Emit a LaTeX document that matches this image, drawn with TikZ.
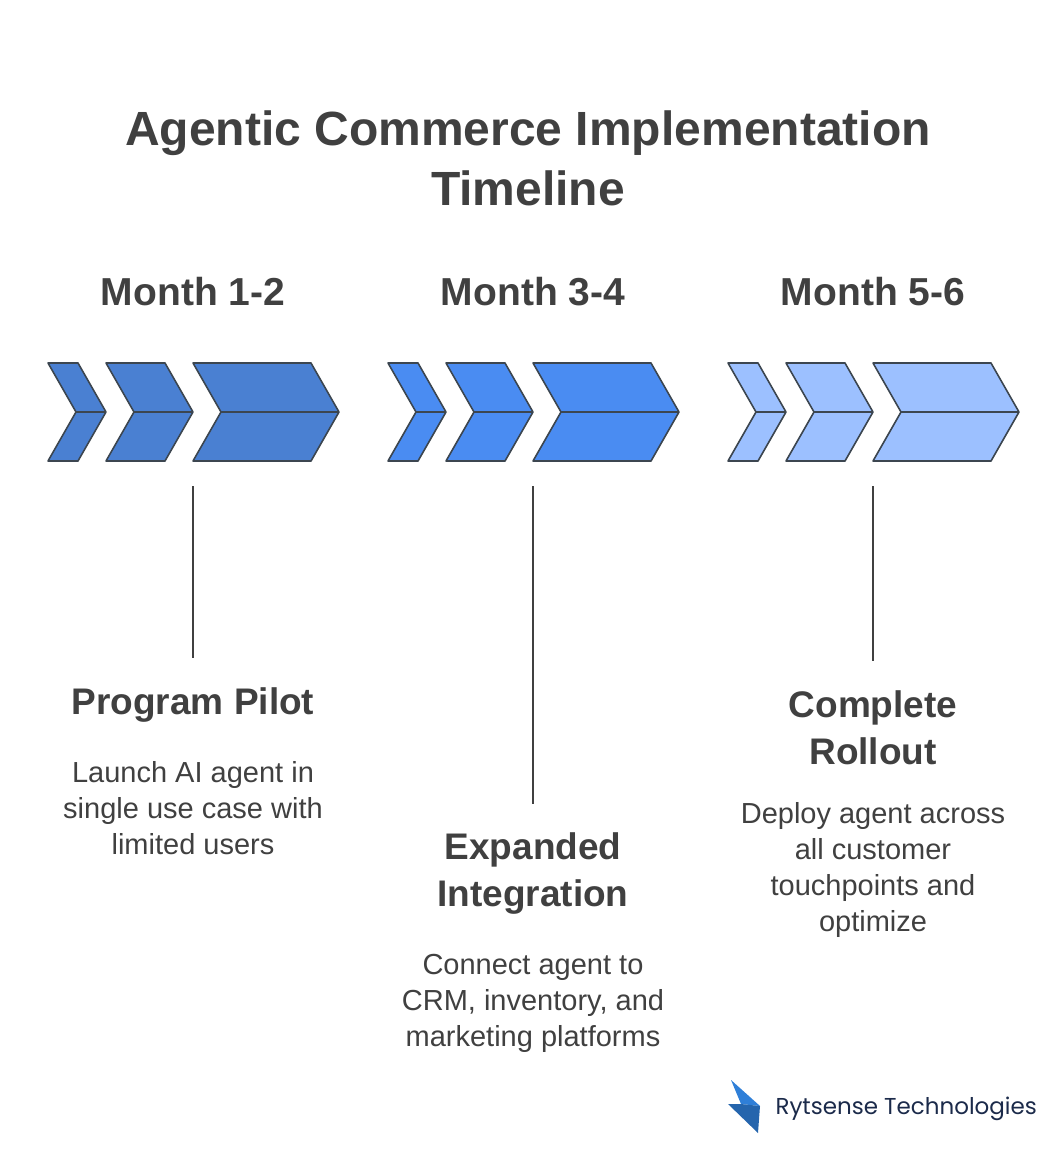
\documentclass[tikz,border=0pt]{standalone}
\usepackage{fontspec}
\setmainfont{Liberation Sans}
\newfontfamily\logofont{Poppins}
\usetikzlibrary{positioning}
\definecolor{txtgray}{HTML}{404040}
\definecolor{edgegray}{HTML}{3C4650}
\definecolor{blueA}{HTML}{4A80D2}
\definecolor{blueB}{HTML}{4A8CF2}
\definecolor{blueC}{HTML}{9CC0FF}
\definecolor{navy}{HTML}{1B2A4A}
\definecolor{logoblue}{HTML}{2F7FD8}
% one chevron: start x, width of flat part, fill
\newcommand{\chevron}[3]{%
  \draw[chev, fill=#3] (#1,363) -- ++(#2,0) -- ++(28,49) -- ++(-28,49)
    -- ++(-#2,0) -- ++(28,-49) -- cycle;
  \draw[chev] (#1+28,412) -- ++(#2,0);}
\begin{document}
\begin{tikzpicture}[x=1pt,y=-1pt,
    chev/.style={draw=edgegray, line width=1.6pt, line join=round},
    title/.style={font=\bfseries\fontsize{48}{60}\selectfont, text=txtgray, align=center},
    month/.style={font=\bfseries\fontsize{39}{40}\selectfont, text=txtgray},
    head/.style={font=\bfseries\fontsize{37}{47}\selectfont, text=txtgray, align=center},
    body/.style={font=\fontsize{29}{36}\selectfont, text=txtgray, align=center},
    stem/.style={draw=txtgray, line width=1.2pt}]
  \useasboundingbox (0,0) rectangle (1056,1152);
  \node[title] (title) at (528,158) {Agentic Commerce Implementation\\Timeline};
  \node[month] (m1) at (193,292) {Month 1-2};
  \node[month] (m2) at (533,292) {Month 3-4};
  \node[month] (m3) at (873,292) {Month 5-6};
  % chevrons
  \foreach \x/\c in {48/blueA, 388/blueB, 728/blueC} {
    \chevron{\x}{30}{\c}
    \chevron{\x+58}{59}{\c}
    \chevron{\x+145}{118}{\c}
  }
  % stems and texts
  \coordinate (t1) at (193,486);
  \coordinate (t2) at (533,486);
  \coordinate (t3) at (873,486);
  \node[head] (h1) at (193,705) {Program Pilot};
  \node[body, below=32pt of h1] (b1) {Launch AI agent in\\single use case with\\limited users};
  \node[head] (h2) at (533,874) {Expanded\\Integration};
  \node[body, below=32pt of h2] (b2) {Connect agent to\\CRM, inventory, and\\marketing platforms};
  \node[head] (h3) at (873,728) {Complete\\Rollout};
  \node[body, below=30pt of h3] (b3) {Deploy agent across\\all customer\\touchpoints and\\optimize};
  \draw[stem] (t1) -- ([yshift=26pt]h1.north);
  \draw[stem] (t2) -- ([yshift=26pt]h2.north);
  \draw[stem] (t3) -- ([yshift=26pt]h3.north);
  % logo
  \fill[logoblue] (731,1080) -- (760,1106) -- (741,1104) -- cycle;
  \fill[logoblue!80!black] (741,1104) -- (760,1106) -- (758,1133) -- (728,1104) -- cycle;
  \node[font=\logofont\fontsize{23}{26}\selectfont, text=navy, anchor=west] (logo) at (772,1109) {Rytsense Technologies};
\end{tikzpicture}
\end{document}
